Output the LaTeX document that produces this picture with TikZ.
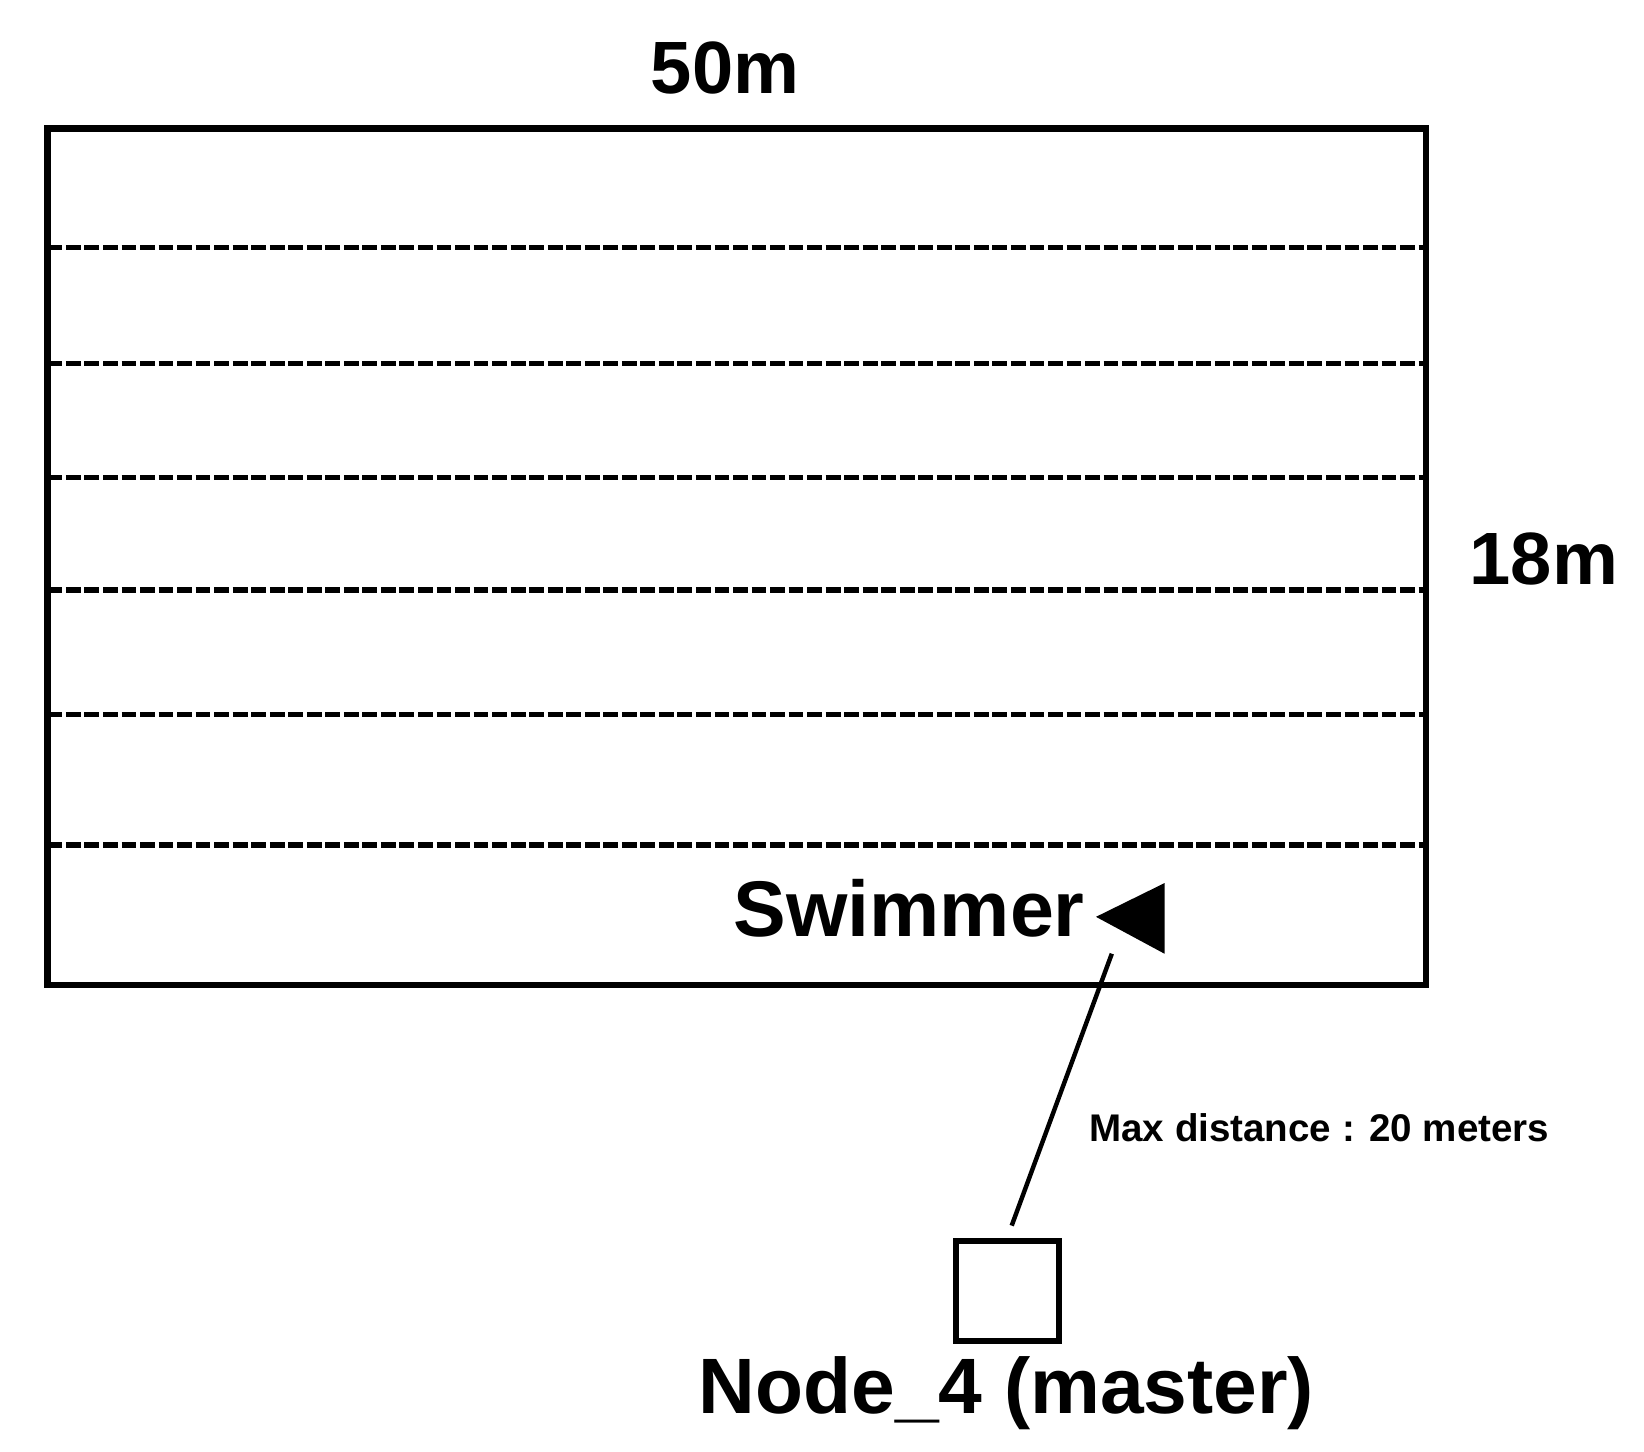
\documentclass[tikz,border=0pt]{standalone}
\usepackage{fontspec}
\setmainfont{Liberation Sans}
\usetikzlibrary{shapes.geometric}
\tikzset{
  lbl/.style={font=\bfseries\fontsize{20pt}{22pt}\selectfont, inner sep=0pt},
  lane/.style={line width=1.5pt, dash pattern=on 4pt off 1pt},
}
\begin{document}
\begin{tikzpicture}[x=0.01cm,y=-0.01cm]
\useasboundingbox (0,0) rectangle (1560,1377);
\draw[line width=1.7pt] (45,122) rectangle (1353,935);
\foreach \y in {235,345,453,560,678,802}
  \draw[lane] (45,\y) -- (1353,\y);

\node[lbl] (len) at (688,65) {50m};
\node[lbl] (wid) at (1465,530) {18m};
\node[lbl, font=\bfseries\fontsize{21.3pt}{23pt}\selectfont, anchor=east] (swimmer) at (1030,862) {Swimmer};
\fill (1040,870) -- (1105,838) -- (1105,905) -- cycle;
\coordinate (swim) at (1055,905);

\node[draw, line width=1.5pt, minimum width=0.98cm, minimum height=0.95cm, inner sep=0pt] (master) at (956,1225) {};
\coordinate (mtop) at (960,1163);
\draw[line width=1.2pt] (swim) -- (mtop);
\node[lbl, font=\bfseries\fontsize{21.2pt}{23pt}\selectfont] (mlabel) at (955,1322) {Node\_4 (master)};
\node[font=\bfseries\fontsize{10.4pt}{11pt}\selectfont, anchor=west, inner sep=0pt] (dist) at (1033,1070) {Max distance : 20 meters};
\end{tikzpicture}
\end{document}
